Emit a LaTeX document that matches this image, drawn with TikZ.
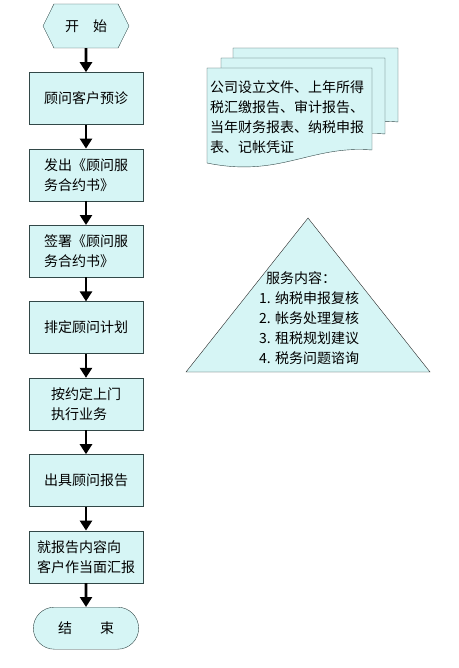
\documentclass[tikz,border=0pt]{standalone}
\usepackage{fontspec}
\setmainfont{Noto Sans CJK SC}
\usetikzlibrary{arrows.meta,positioning,shapes.symbols,shapes.misc}
\definecolor{paleaqua}{RGB}{214,245,245}
\definecolor{edgegray}{RGB}{50,72,72}

\begin{document}
\begin{tikzpicture}[
  x=1pt,y=-1pt,
  font=\fontsize{14pt}{20pt}\selectfont,
  node distance=24pt,
  proc/.style={draw=edgegray,fill=paleaqua,align=left,minimum width=114pt,minimum height=52pt,inner sep=2pt},
  hexa/.style={draw=edgegray,fill=paleaqua,signal,signal to=east and west,signal pointer angle=127,minimum width=86pt,minimum height=44pt,inner sep=0pt},
  term/.style={draw=edgegray,fill=paleaqua,rounded rectangle,minimum width=112pt,minimum height=42pt},
  page/.style={draw=edgegray,fill=paleaqua},
  arr/.style={-{Triangle[length=10pt,width=12pt]},line width=2.6pt},
]
\useasboundingbox (0,0) rectangle (458,668);
% main flow
\node[hexa] (start) at (86,26) {开　始};
\node[proc,below=of start] (diag) {顾问客户预诊};
\node[proc,below=of diag] (issue) {发出《顾问服\\务合约书》};
\node[proc,below=of issue] (sign) {签署《顾问服\\务合约书》};
\node[proc,below=of sign] (plan) {排定顾问计划};
\node[proc,below=of plan] (visit) {按约定上门\\执行业务};
\node[proc,below=of visit] (report) {出具顾问报告};
\node[proc,below=of report] (brief) {就报告内容向\\客户作当面汇报};
\node[term,below=of brief] (stop) {结　　束};
\draw[arr] (start) -- (diag);
\draw[arr] (diag) -- (issue);
\draw[arr] (issue) -- (sign);
\draw[arr] (sign) -- (plan);
\draw[arr] (plan) -- (visit);
\draw[arr] (visit) -- (report);
\draw[arr] (report) -- (brief);
\draw[arr] (brief) -- (stop);
% documents
\draw[page] (233,48) -- (398,48) -- (398,122) .. controls (360,118) and (300,135) .. (233,125) -- cycle;
\draw[page] (221,58) -- (385,58) -- (385,134) .. controls (340,130) and (290,150) .. (221,140) -- cycle;
\draw[page] (207,68) -- (372,68) -- (372,150) .. controls (310,145) and (280,178) .. (207,163) -- cycle;
\node[anchor=west,align=left,inner sep=0pt] (docs) at (210,117)
  {公司设立文件、上年所得\\税汇缴报告、审计报告、\\当年财务报表、纳税申报\\表、记帐凭证};
% services
\coordinate (apex) at (308,218);
\coordinate (baseL) at (186,372);
\coordinate (baseR) at (430,372);
\draw[fill=paleaqua,draw=black!85] (apex) -- (baseR) -- (baseL) -- cycle;
\node[anchor=west,align=left,inner sep=0pt] (svc) at (259,318)
  {\hspace*{7pt}服务内容：\\1. 纳税申报复核\\2. 帐务处理复核\\3. 租税规划建议\\4. 税务问题谘询};
\end{tikzpicture}
\end{document}
